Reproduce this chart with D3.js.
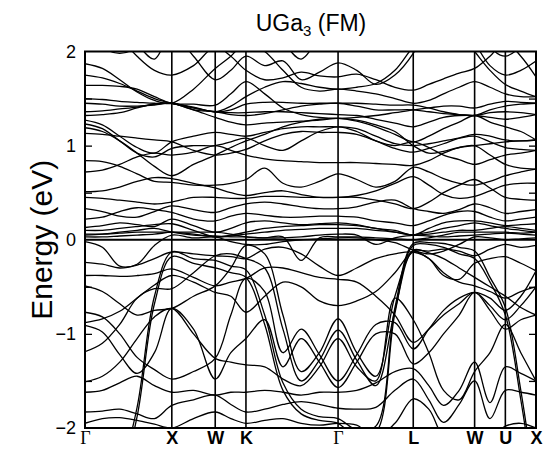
<!DOCTYPE html>
<html><head><meta charset="utf-8">
<script src="https://cdn.jsdelivr.net/npm/d3@7"></script>
<style>body{margin:0;background:#fff} svg{display:block}</style>
</head><body>
<svg id="c" width="543" height="452"></svg>
<script>
// high-symmetry path
const kLabels = ["Γ","X","W","K","Γ","L","W","U","X"];
const kSym = [0,1,1.5,1.854,2.915,3.781,4.488,4.842,5.195];
// sampled k positions (shared by every band)
const kGrid = [0,0.2,0.4,0.6,0.8,1.0,1.25,1.5,1.68,1.854,2.07,2.28,2.49,2.70,2.915,3.13,3.35,3.57,3.781,3.96,4.13,4.31,4.488,4.665,4.842,5.02,5.195];
const yTicks = [-2,-1,0,1,2];
const yMinor = [-1.5,-1,-0.5,0.5,1,1.5];

// band energies (eV), one value per kGrid point
const H1 = [2.30,2.05,1.98,2.05,2.30,2.60,2.40,2.15,2.00,2.05,2.30,2.10,1.92,2.15,2.30,2.40,2.30,2.15,2.02,2.20,2.40,2.60,2.40,2.05,1.95,2.05,2.20];
const H2 = [2.60,2.50,2.30,2.08,1.92,2.20,1.95,1.70,1.80,1.95,1.85,1.90,1.70,1.78,1.88,1.80,1.65,1.75,1.98,2.30,2.50,2.40,2.10,1.85,1.75,1.80,1.90];
const H3 = [2.50,2.35,2.15,1.95,1.80,1.75,1.85,2.05,1.95,1.80,1.70,1.72,1.78,1.74,1.73,1.76,1.70,1.62,1.59,1.65,1.71,1.77,1.82,1.95,2.10,1.95,1.73];
const H4 = [1.87,1.82,1.70,1.57,1.48,1.45,1.60,1.82,1.95,2.10,2.00,1.80,1.62,1.58,1.60,1.58,1.55,1.50,1.45,1.48,1.55,1.62,1.68,1.62,1.55,1.52,1.52];
const H5 = [1.75,1.72,1.66,1.58,1.50,1.45,1.41,1.36,1.42,1.52,1.62,1.68,1.66,1.62,1.60,1.62,1.66,1.80,2.05,2.20,2.30,2.20,2.00,1.80,1.65,1.58,1.52];
const H6 = [1.64,1.64,1.63,1.60,1.52,1.45,1.44,1.43,1.55,1.68,1.55,1.40,1.33,1.30,1.29,1.30,1.32,1.35,1.38,1.40,1.42,1.42,1.40,1.44,1.47,1.46,1.45];
const M1 = [1.50,1.49,1.47,1.46,1.45,1.45,1.40,1.36,1.38,1.44,1.46,1.46,1.45,1.45,1.45,1.45,1.44,1.43,1.43,1.40,1.36,1.33,1.32,1.38,1.42,1.44,1.45];
const M2 = [1.45,1.44,1.42,1.42,1.43,1.45,1.38,1.36,1.33,1.32,1.34,1.38,1.42,1.44,1.45,1.42,1.38,1.38,1.38,1.36,1.34,1.33,1.32,1.35,1.36,1.35,1.33];
const M3 = [1.36,1.37,1.39,1.41,1.44,1.45,1.40,1.36,1.35,1.35,1.36,1.36,1.35,1.34,1.33,1.32,1.28,1.24,1.20,1.25,1.30,1.32,1.32,1.30,1.28,1.30,1.33];
const M4 = [1.32,1.33,1.35,1.40,1.44,1.45,1.38,1.30,1.25,1.22,1.24,1.25,1.26,1.27,1.29,1.26,1.20,1.12,1.04,1.10,1.18,1.25,1.32,1.25,1.20,1.15,1.06];
const M5 = [1.27,1.22,1.10,0.98,0.92,1.04,1.10,1.14,1.12,1.10,1.14,1.18,1.20,1.20,1.20,1.18,1.10,1.02,1.00,1.02,1.05,1.08,1.10,1.04,0.98,0.96,0.95];
const M6 = [1.23,1.18,1.05,0.92,0.88,0.97,1.00,1.00,1.04,1.08,1.00,0.95,1.05,1.15,1.20,1.15,1.05,1.00,1.04,0.98,0.90,0.85,0.80,0.85,0.90,0.92,0.95];
const M7 = [1.19,1.15,1.05,0.92,0.78,0.68,0.80,0.90,0.98,1.05,1.12,1.20,1.25,1.28,1.29,1.27,1.22,1.15,1.00,0.92,0.94,0.98,1.00,1.02,1.04,1.05,1.06];
const M8 = [1.13,1.12,1.10,1.08,1.06,1.04,0.95,0.90,0.92,0.96,1.05,1.12,1.15,1.14,1.14,1.12,1.05,0.97,0.93,0.97,1.02,1.08,1.12,1.10,1.06,1.05,1.06];
const N1 = [0.84,0.83,0.78,0.70,0.62,0.61,0.58,0.58,0.60,0.64,0.76,0.60,0.56,0.62,0.70,0.64,0.56,0.62,0.77,0.72,0.65,0.60,0.58,0.62,0.68,0.72,0.75];
const N2 = [0.72,0.74,0.80,0.88,0.92,0.90,0.93,1.00,0.95,0.90,0.86,0.84,0.83,0.82,0.82,0.82,0.81,0.80,0.79,0.84,0.92,0.98,1.00,0.90,0.80,0.76,0.75];
const N3 = [0.51,0.52,0.56,0.62,0.66,0.65,0.60,0.55,0.50,0.47,0.50,0.52,0.48,0.45,0.45,0.47,0.52,0.60,0.67,0.58,0.48,0.44,0.46,0.52,0.58,0.60,0.60];
const N4 = [0.45,0.44,0.42,0.40,0.38,0.40,0.45,0.45,0.44,0.44,0.46,0.46,0.45,0.45,0.45,0.45,0.42,0.38,0.33,0.40,0.50,0.58,0.64,0.55,0.45,0.43,0.42];
const F1 = [0.33,0.30,0.25,0.24,0.30,0.36,0.32,0.29,0.34,0.38,0.40,0.38,0.35,0.33,0.33,0.35,0.40,0.42,0.33,0.30,0.28,0.32,0.38,0.34,0.28,0.30,0.32];
const F2 = [0.22,0.24,0.30,0.34,0.32,0.29,0.22,0.20,0.25,0.28,0.26,0.24,0.24,0.25,0.25,0.24,0.20,0.18,0.15,0.20,0.26,0.30,0.30,0.24,0.20,0.22,0.24];
const F3 = [0.13,0.15,0.18,0.16,0.14,0.22,0.15,0.08,0.12,0.18,0.20,0.18,0.16,0.17,0.18,0.16,0.12,0.10,0.05,0.12,0.18,0.20,0.20,0.18,0.15,0.16,0.17];
const F4 = [0.10,0.10,0.12,0.14,0.16,0.17,0.10,0.03,0.05,0.08,0.12,0.14,0.15,0.16,0.16,0.15,0.12,0.08,0.05,0.06,0.08,0.10,0.10,0.12,0.14,0.12,0.10];
const F5 = [0.06,0.06,0.07,0.08,0.08,0.08,0.06,0.03,0.04,0.06,0.08,0.10,0.11,0.12,0.12,0.12,0.10,0.08,0.05,0.04,0.03,0.04,0.05,0.06,0.07,0.06,0.05];
const F6 = [0.03,0.03,0.04,0.05,0.06,0.08,0.08,0.08,0.06,0.03,0.02,0.02,0.03,0.05,0.06,0.05,-0.05,0.02,0.05,0.08,0.12,0.15,0.18,0.15,0.12,0.10,0.08];
const F7 = [0.05,0.06,0.08,0.10,0.12,0.08,0.05,0.04,0.03,0.03,0.02,0.03,-0.22,0.02,0.03,0.03,0.02,0.01,0.00,0.02,0.05,0.08,0.08,0.08,0.08,0.07,0.08];
const L1 = [-0.02,-0.08,-0.28,-0.26,-0.06,0.05,0.02,0.03,-0.02,-0.05,-0.05,-0.02,0.00,0.01,0.02,0.02,0.00,-0.03,-0.11,-0.15,-0.12,-0.05,0.03,0.02,0.00,0.01,0.02];
const L2 = [-0.24,-0.26,-0.30,-0.27,-0.20,-0.13,-0.15,-0.17,-0.18,-0.20,-0.10,-0.08,-0.15,-0.28,-0.38,-0.30,-0.20,-0.15,-0.13,-0.20,-0.38,-0.42,-0.25,-0.20,-0.18,-0.25,-0.33];
const L3 = [-0.38,-0.38,-0.39,-0.38,-0.36,-0.31,-0.40,-0.49,-0.45,-0.41,-0.30,-0.30,-0.35,-0.40,-0.42,-0.45,-0.60,-0.80,-1.09,-0.95,-0.80,-0.68,-0.56,-0.70,-0.85,-0.70,-0.50];
const L4 = [-0.88,-0.84,-0.76,-0.62,-0.48,-0.38,-0.45,-0.56,-0.60,-0.77,-0.60,-0.45,-0.50,-0.65,-0.70,-0.65,-0.55,-0.35,-0.12,-0.12,-0.10,-0.12,-0.17,-0.10,-0.05,-0.08,-0.06];
const K1 = [-0.49,-0.55,-0.68,-0.80,-0.75,-0.73,-0.60,-0.49,-0.30,-0.06,-0.15,-0.80,-1.40,-1.20,-0.84,-1.20,-1.45,-0.60,-0.13,-0.20,-0.35,-0.45,-0.49,-0.55,-0.62,-0.55,-0.50];
const K2 = [-1.19,-1.10,-0.90,-0.62,-0.52,-0.52,-0.35,-0.17,-0.15,-0.20,-0.30,-0.95,-1.50,-1.28,-0.96,-1.28,-1.55,-0.75,-0.11,-0.14,-0.20,-0.30,-0.40,-0.50,-0.60,-0.72,-0.80];
const K3 = [-0.77,-0.82,-1.00,-1.25,-1.38,-1.48,-1.40,-1.26,-0.80,-0.41,-0.55,-1.20,-0.95,-1.22,-1.50,-1.22,-0.90,-0.88,-1.16,-0.95,-0.75,-0.62,-0.56,-0.62,-0.75,-0.60,-0.33];
const K4 = [-0.91,-0.98,-1.22,-1.42,-1.20,-0.73,-0.95,-1.48,-1.20,-1.05,-0.85,-1.35,-1.05,-1.30,-1.57,-1.30,-1.00,-1.00,-1.32,-1.20,-1.00,-0.80,-0.56,-0.75,-0.95,-0.85,-0.80];
const K5 = [-1.51,-1.45,-1.30,-1.05,-0.82,-0.73,-1.00,-1.26,-1.30,-1.33,-1.35,-1.48,-1.55,-1.35,-1.05,-1.35,-1.50,-0.62,-0.85,-1.20,-1.60,-1.70,-1.40,-1.20,-0.90,-1.20,-1.50];
const V1 = [-1.62,-1.60,-1.52,-1.45,-1.55,-1.62,-1.60,-1.65,-1.62,-1.62,-1.60,-1.62,-1.65,-1.62,-1.62,-1.60,-1.52,-1.40,-1.37,-1.55,-1.76,-1.60,-1.30,-1.73,-1.35,-1.42,-1.50];
const V2 = [-1.83,-1.82,-1.80,-1.85,-1.90,-1.76,-1.70,-1.65,-1.75,-1.83,-1.80,-1.75,-1.72,-1.75,-1.79,-1.80,-1.78,-1.60,-1.48,-1.70,-1.94,-1.75,-1.50,-1.90,-1.60,-1.62,-1.65];
const G7 = [-1.95,-1.90,-1.89,-1.92,-1.96,-2.00,-1.90,-1.83,-1.90,-1.95,-1.92,-1.90,-1.95,-1.97,-1.95,-1.97,-2.10,-1.95,-1.69,-1.80,-2.10,-2.20,-2.05,-2.10,-1.98,-1.95,-2.00];
const S1 = [-3.6,-3.1,-2.6,-1.88,-0.68,-0.18,-0.25,-0.30,-0.35,-0.40,-0.90,-1.60,-1.85,-1.92,-1.95,-2.10,-2.05,-0.78,-0.06,-0.05,-0.08,-0.15,-0.20,-0.45,-0.80,-1.70,-2.80];
const S2 = [-3.6,-3.0,-2.5,-1.78,-0.60,-0.13,-0.20,-0.22,-0.28,-0.32,-0.80,-1.52,-1.80,-1.88,-1.90,-2.02,-1.98,-0.72,-0.04,-0.03,-0.04,-0.08,-0.12,-0.40,-0.72,-1.60,-2.70];

const bands = [H1,H2,H3,H4,H5,H6,M1,M2,M3,M4,M5,M6,M7,M8,N1,N2,N3,N4,F1,F2,F3,F4,F5,F6,F7,L1,L2,L3,L4,K1,K2,K3,K4,K5,V1,V2,G7,S1,S2];

const svg = d3.select("#c");
const L = 85, R = 536, T = 51.5, B = 428;
const x = d3.scaleLinear().domain([0, 5.195]).range([L, R]);
const y = d3.scaleLinear().domain([-2, 2]).range([B, T]);

svg.append("defs").append("clipPath").attr("id","clip")
  .append("rect").attr("x",L).attr("y",T).attr("width",R-L).attr("height",B-T);

const line = d3.line().x((d,i)=>x(kGrid[i])).y(d=>y(d)).curve(d3.curveCatmullRom.alpha(0.5));
const g = svg.append("g").attr("clip-path","url(#clip)");
g.selectAll("path.band").data(bands).join("path").attr("class","band")
  .attr("d", line).attr("fill","none").attr("stroke","#000").attr("stroke-width",1.3);

// symmetry lines
g.selectAll("line.sym").data(kSym.slice(1,-1)).join("line").attr("class","sym")
  .attr("x1",d=>x(d)).attr("x2",d=>x(d)).attr("y1",T).attr("y2",B)
  .attr("stroke","#000").attr("stroke-width",1.6);
// Fermi level
g.append("line").attr("x1",L).attr("x2",R).attr("y1",y(0)).attr("y2",y(0))
  .attr("stroke","#000").attr("stroke-width",2);

// minor inward ticks
svg.append("g").attr("transform",`translate(${L},0)`)
  .call(d3.axisLeft(y).tickValues(yMinor).tickSize(-7).tickFormat(""))
  .call(s=>s.select(".domain").remove()).selectAll("line").attr("stroke-width",1.3);
svg.append("g").attr("transform",`translate(${R},0)`)
  .call(d3.axisRight(y).tickValues(yMinor).tickSize(-7).tickFormat(""))
  .call(s=>s.select(".domain").remove()).selectAll("line").attr("stroke-width",1.3);

// frame
svg.append("rect").attr("x",L).attr("y",T).attr("width",R-L).attr("height",B-T)
  .attr("fill","none").attr("stroke","#000").attr("stroke-width",2);

// y tick labels
const ya = svg.append("g").attr("transform",`translate(${L},0)`)
  .call(d3.axisLeft(y).tickValues(yTicks).tickSize(0).tickPadding(9)
    .tickFormat(d => d < 0 ? "\u2212" + Math.abs(d) : String(d)));
ya.select(".domain").remove();
ya.selectAll("text").attr("font-family","Liberation Sans, Arial, sans-serif").attr("font-size",18).attr("fill","#000");

// x labels
const xa = svg.append("g").attr("transform",`translate(0,${B})`)
  .call(d3.axisBottom(x).tickValues(kSym).tickSize(0).tickPadding(3).tickFormat((d,i)=>kLabels[i]));
xa.select(".domain").remove();
xa.selectAll("text").attr("fill","#000").attr("font-size",18)
  .attr("font-family",(d,i)=>kLabels[i]==="Γ" ? "Liberation Serif, Times New Roman, serif" : "Liberation Sans, Arial, sans-serif")
  .attr("font-weight",(d,i)=>kLabels[i]==="Γ" ? "normal" : "bold");

// axis title
svg.append("text").attr("transform",`translate(52,${(T+B)/2}) rotate(-90)`)
  .attr("text-anchor","middle").attr("font-family","Liberation Sans, Arial, sans-serif")
  .attr("font-size",30).text("Energy (eV)");

// chart title
const tt = svg.append("text").attr("x",311).attr("y",31).attr("text-anchor","middle")
  .attr("font-family","Liberation Sans, Arial, sans-serif").attr("font-size",23);
tt.append("tspan").text("UGa");
tt.append("tspan").attr("font-size",15).attr("dy",5).text("3");
tt.append("tspan").attr("dy",-5).text(" (FM)");
</script>
</body></html>
